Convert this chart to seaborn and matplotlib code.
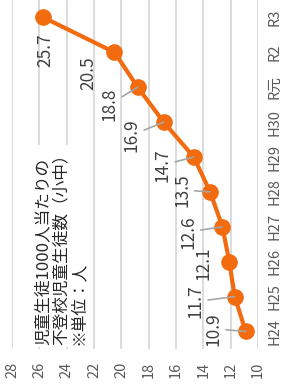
import matplotlib
matplotlib.use("Agg")
import matplotlib.pyplot as plt
import pandas as pd
import seaborn as sns

# Values (per 1000 pupils, elementary + junior high)
years = ["H24", "H25", "H26", "H27", "H28", "H29", "H30", "R元", "R2", "R3"]
rates = [10.9, 11.7, 12.1, 12.6, 13.5, 14.7, 16.9, 18.8, 20.5, 25.7]
value_ticks = [10, 12, 14, 16, 18, 20, 22, 24, 26, 28]
title_lines = ["児童生徒1000人当たりの", "不登校児童生徒数（小中）", "※単位：人"]

# label placement (offset points) and whether a leader line is drawn
label_offsets = [(-23, 2), (-28, -3.6), (-18.7, -1.4), (-24.5, -3.6), (-20, 1.4),
                 (-22.3, -5.8), (-23, -9.4), (-20, -12.2), (-18.7, -15), (1.4, -23.8)]
leaders = [True, True, False, True, True, True, True, True, False, False]

orange = "#F26B0F"

sns.set_theme(style="white")
plt.rcParams["font.family"] = ["Noto Sans CJK JP", "DejaVu Sans"]

df = pd.DataFrame({"年度": years, "人数": rates})

fig = plt.figure(figsize=(2.86, 3.89), dpi=100)
ax = fig.add_axes([0.042, 0.103, 0.86, 0.897])

# chart is drawn turned on its side: values run right-to-left, years bottom-to-top
sns.lineplot(data=df, x="人数", y="年度", orient="y", sort=False, color=orange,
             lw=3, marker="o", markersize=12, markeredgewidth=0, ax=ax)

ax.set_xlim(28, 10)
ax.set_ylim(-0.5, 9.5)
ax.set_xticks(value_ticks)
ax.set_xlabel("")
ax.set_ylabel("")
ax.grid(axis="x", color="#D9D9D9", lw=1.3)
ax.grid(axis="y", visible=False)
ax.set_axisbelow(True)
for s in ax.spines.values():
    s.set_visible(False)

ax.yaxis.tick_right()
ax.tick_params(axis="y", rotation=90, length=0, pad=7, labelsize=10.5, labelcolor="#595959")
ax.tick_params(axis="x", rotation=90, length=0, pad=9, labelsize=10.5, labelcolor="#595959")
for lbl in ax.get_yticklabels():
    lbl.set_va("center")

for yr, v, off, lead in zip(years, rates, label_offsets, leaders):
    props = dict(arrowstyle="-", color="#A6A6A6", lw=1.2, shrinkA=0, shrinkB=0) if lead else None
    ax.annotate(f"{v}", xy=(v, yr), xytext=off, textcoords="offset points",
                rotation=90, ha="center", va="center", fontsize=12.5,
                color="#404040", arrowprops=props)

fig.text(0.122, 0.112, "\n".join(title_lines), rotation=90, ha="left", va="bottom",
         multialignment="left", fontsize=12, linespacing=1.05, color="#262626",
         bbox=dict(facecolor="white", edgecolor="none", pad=1))

fig.savefig("out.png", dpi=100)
